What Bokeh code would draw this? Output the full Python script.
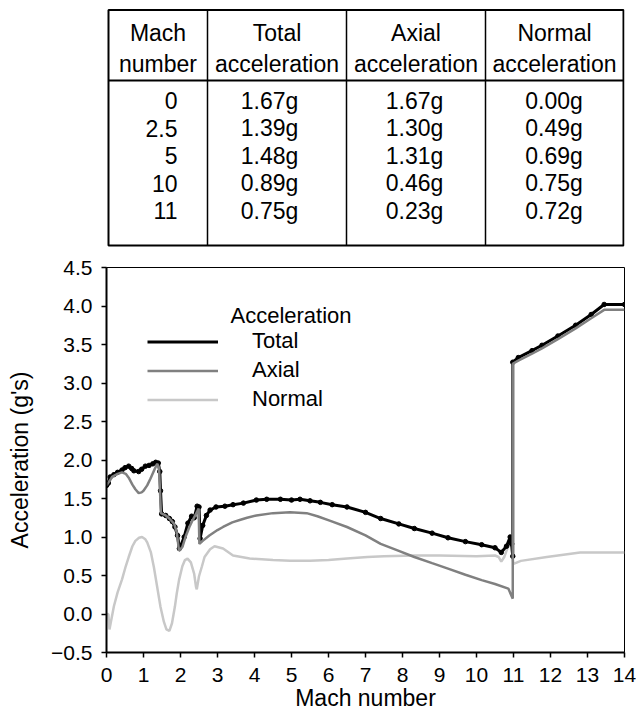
from bokeh.plotting import figure
from bokeh.models import Range1d, FixedTicker, Legend, LegendItem, Label, PrintfTickFormatter
from bokeh.layouts import column
from bokeh.embed import file_html
from bokeh.resources import INLINE
from bokeh.core.properties import value

FONT = "Liberation Sans"

# ---------------- table data ----------------
table_headers = [["Mach", "number"], ["Total", "acceleration"],
                 ["Axial", "acceleration"], ["Normal", "acceleration"]]
table_mach = [0, 2.5, 5, 10, 11]
table_total = [1.67, 1.39, 1.48, 0.89, 0.75]
table_axial = [1.67, 1.30, 1.31, 0.46, 0.23]
table_normal = [0.00, 0.49, 0.69, 0.75, 0.72]

# ---------------- chart data ----------------
mach_total = [0, 0.05, 0.1, 0.2, 0.3, 0.42, 0.5, 0.6, 0.68, 0.74, 0.87, 0.95, 1.05, 1.15,
              1.25, 1.33, 1.4, 1.44, 1.46, 1.49, 1.6, 1.7, 1.78, 1.85, 1.92, 1.97, 2.0,
              2.1, 2.2, 2.3, 2.37, 2.45, 2.5, 2.53, 2.6, 2.7, 2.8, 2.96, 3.2, 3.42, 3.7,
              4.05, 4.33, 4.7, 5.0, 5.23, 5.5, 5.78, 6.1, 6.5, 7.0, 7.41, 7.9, 8.32, 8.8,
              9.23, 9.7, 10.14, 10.5, 10.67, 10.81, 10.91, 10.95, 10.98, 10.98, 11.13,
              11.5, 11.77, 12.2, 12.68, 13.1, 13.45, 14.0]
acc_total = [1.67, 1.70, 1.78, 1.81, 1.84, 1.87, 1.90, 1.92, 1.89, 1.86, 1.85, 1.88, 1.92, 1.93,
             1.95, 1.97, 1.96, 1.85, 1.60, 1.30, 1.28, 1.24, 1.20, 1.13, 1.02, 0.85, 0.88,
             1.00, 1.18, 1.27, 1.25, 1.40, 1.39, 0.98, 1.15, 1.28, 1.35, 1.39, 1.40, 1.42, 1.44,
             1.48, 1.49, 1.49, 1.48, 1.49, 1.47, 1.45, 1.42, 1.39, 1.32, 1.24, 1.17, 1.11, 1.05,
             0.99, 0.94, 0.90, 0.86, 0.80, 0.88, 1.00, 0.91, 0.75, 3.27, 3.33,
             3.42, 3.49, 3.61, 3.75, 3.89, 4.02, 4.02]

mach_axial = [0, 0.1, 0.15, 0.3, 0.42, 0.52, 0.6, 0.7, 0.78, 0.87, 0.95, 1.0, 1.1, 1.19, 1.3,
              1.37, 1.42, 1.45, 1.47, 1.6, 1.7, 1.83, 1.9, 1.96, 2.05, 2.15, 2.24, 2.33, 2.42,
              2.49, 2.51, 2.6, 2.78, 3.0, 3.15, 3.4, 3.6, 3.8, 4.05, 4.5, 4.96, 5.41, 5.7, 6.05,
              6.5, 7.0, 7.41, 7.9, 8.32, 8.8, 9.23, 9.7, 10.14, 10.5, 10.86, 10.95, 10.98, 10.98,
              11.13, 11.5, 11.77, 12.2, 12.68, 13.1, 13.45, 14.0]
acc_axial = [1.67, 1.74, 1.78, 1.82, 1.84, 1.82, 1.77, 1.68, 1.62, 1.57, 1.58, 1.60, 1.67, 1.76, 1.88,
             1.95, 1.90, 1.55, 1.31, 1.28, 1.24, 1.17, 1.06, 0.82, 0.87, 1.02, 1.13, 1.22, 1.30,
             1.37, 0.91, 0.95, 1.02, 1.09, 1.13, 1.19, 1.22, 1.25, 1.28, 1.31, 1.32, 1.31, 1.27, 1.21,
             1.13, 1.02, 0.91, 0.82, 0.74, 0.66, 0.59, 0.51, 0.44, 0.39, 0.33, 0.23, 0.20, 3.25,
             3.29, 3.38, 3.45, 3.57, 3.71, 3.84, 3.95, 3.95]

mach_normal = [0, 0.05, 0.08, 0.12, 0.2, 0.3, 0.42, 0.52, 0.6, 0.7, 0.78, 0.88, 0.96, 1.05, 1.1,
               1.2, 1.28, 1.37, 1.46, 1.55, 1.62, 1.7, 1.77, 1.85, 1.9, 1.96, 2.05, 2.12, 2.19,
               2.28, 2.37, 2.42, 2.44, 2.5, 2.58, 2.65, 2.8, 2.92, 3.15, 3.42, 3.87, 4.5, 4.96,
               5.5, 6.0, 6.5, 7.05, 7.5, 8.32, 9.0, 10.0, 10.5, 10.6, 10.67, 10.75, 10.81, 10.93,
               10.98, 11.0, 11.2, 11.9, 12.8, 14.0]
acc_normal = [0.0, 0.0, -0.2, -0.1, 0.1, 0.28, 0.45, 0.62, 0.74, 0.88, 0.95, 0.99, 1.0, 0.97, 0.93,
              0.80, 0.61, 0.35, 0.09, -0.10, -0.20, -0.22, -0.12, 0.10, 0.27, 0.44, 0.62, 0.70, 0.72,
              0.67, 0.52, 0.35, 0.32, 0.49, 0.62, 0.74, 0.84, 0.88, 0.85, 0.76, 0.72, 0.70, 0.69,
              0.69, 0.70, 0.72, 0.74, 0.75, 0.76, 0.76, 0.75, 0.76, 0.74, 0.68, 0.74, 0.82, 0.95,
              0.72, 0.65, 0.69, 0.74, 0.80, 0.80]

x_ticks = list(range(0, 15))
x_tick_labels = [str(t) for t in x_ticks]
y_ticks = [-0.5, 0.0, 0.5, 1.0, 1.5, 2.0, 2.5, 3.0, 3.5, 4.0, 4.5]
y_tick_labels = ["\u22120.5", "0.0", "0.5", "1.0", "1.5", "2.0", "2.5", "3.0", "3.5", "4.0", "4.5"]

legend_title = "Acceleration"
series_names = ["Total", "Axial", "Normal"]
series_colors = ["#000000", "#808080", "#c8c8c8"]

# ---------------- layout constants ----------------
W = 636
BL, BR = 106, 12          # left / right borders shared by both figures
TH = 250                  # table figure height
CH = 464                  # chart figure height

# ---------------- table figure ----------------
tp = figure(width=W, height=TH, x_range=Range1d(BL, W - BR), y_range=Range1d(TH, 0),
            output_backend="svg", toolbar_location=None,
            min_border_left=BL, min_border_right=BR, min_border_top=0, min_border_bottom=0,
            x_axis_location=None, y_axis_location=None, outline_line_color=None)
tp.grid.visible = False

col_edges = [108, 207, 346, 485, 623]
t_top, t_sep, t_bot = 9.5, 80, 245
header_line_y = [32, 63]
row_y0, row_pitch = 100, 27.5
data_anchor = [177, 269, 414, 553.5]

tp.quad(left=col_edges[0], right=col_edges[-1], top=t_top, bottom=t_bot,
        fill_color=None, line_color="black", line_width=2)
inner = col_edges[1:-1]
tp.segment(x0=inner, y0=[t_top] * len(inner), x1=inner, y1=[t_bot] * len(inner),
           line_color="black", line_width=1.5)
tp.segment(x0=[col_edges[0]], y0=[t_sep], x1=[col_edges[-1]], y1=[t_sep],
           line_color="black", line_width=2)

hx, hy, ht = [], [], []
for ci, lines in enumerate(table_headers):
    cx = (col_edges[ci] + col_edges[ci + 1]) / 2
    for li, s in enumerate(lines):
        hx.append(cx)
        hy.append(header_line_y[li])
        ht.append(s)
tp.text(x=hx, y=hy, text=ht, text_font=value(FONT), text_font_size="23px",
        text_align="center", text_baseline="middle", text_color="black")

row_y = [row_y0 + i * row_pitch for i in range(len(table_mach))]
tp.text(x=[data_anchor[0]] * len(table_mach), y=row_y, text=[f"{m:g}" for m in table_mach],
        text_font=value(FONT), text_font_size="23px", text_align="right",
        text_baseline="middle", text_color="black")
for k, vals in enumerate([table_total, table_axial, table_normal]):
    tp.text(x=[data_anchor[k + 1]] * len(vals), y=row_y, text=[f"{v:.2f}g" for v in vals],
            text_font=value(FONT), text_font_size="23px", text_align="center",
            text_baseline="middle", text_color="black")

# ---------------- chart figure ----------------
p = figure(width=W, height=CH, x_range=Range1d(0, 14), y_range=Range1d(-0.5, 4.5),
           output_backend="svg", toolbar_location=None,
           min_border_left=BL, min_border_right=BR, min_border_top=17, min_border_bottom=62)
p.grid.visible = False
p.outline_line_color = "black"
p.outline_line_width = 1
p.outline_line_alpha = 1

rn = p.line(mach_normal, acc_normal, line_color=series_colors[2], line_width=2.5)
rt = p.line(mach_total, acc_total, line_color=series_colors[0], line_width=3)
p.scatter(mach_total, acc_total, size=4.5, color=series_colors[0])
ra = p.line(mach_axial, acc_axial, line_color=series_colors[1], line_width=2.5)

p.xaxis.ticker = FixedTicker(ticks=x_ticks)
p.xaxis.major_label_overrides = dict(zip(x_ticks, x_tick_labels))
p.yaxis.ticker = FixedTicker(ticks=y_ticks)
p.yaxis.formatter = PrintfTickFormatter(format="%.1f")
p.yaxis.major_label_overrides = dict(zip(y_ticks, y_tick_labels))

p.xaxis.axis_label = "Mach number"
p.yaxis.axis_label = "Acceleration (g's)"
for ax in (p.xaxis, p.yaxis):
    ax.axis_line_width = 2
    ax.axis_line_color = "black"
    ax.major_tick_in = 0
    ax.major_tick_out = 5
    ax.major_tick_line_width = 1.5
    ax.minor_tick_line_color = None
    ax.major_label_text_font = FONT
    ax.major_label_text_font_size = "21px"
    ax.major_label_text_color = "black"
    ax.axis_label_text_font = FONT
    ax.axis_label_text_font_size = "23px"
    ax.axis_label_text_font_style = "normal"
    ax.axis_label_text_color = "black"
p.xaxis.major_label_standoff = 10
p.xaxis.axis_label_standoff = 0
p.yaxis.major_label_standoff = 9
p.yaxis.axis_label_standoff = 15

renderers = [rt, ra, rn]
legend = Legend(items=[LegendItem(label=n, renderers=[r]) for n, r in zip(series_names, renderers)],
                location=(41, 240), border_line_color=None, background_fill_alpha=0,
                padding=0, margin=0, spacing=3, glyph_width=71, glyph_height=25,
                label_height=25, label_standoff=34, label_text_font=FONT,
                label_text_font_size="22px", label_text_color="black")
p.add_layout(legend)
p.add_layout(Label(x=124, y=337, x_units="screen", y_units="screen", text=legend_title,
                   text_font=FONT, text_font_size="22px", text_baseline="middle",
                   text_align="left", text_color="black"))

layout = column(tp, p)
open("out.html", "w").write(file_html(layout, INLINE))
